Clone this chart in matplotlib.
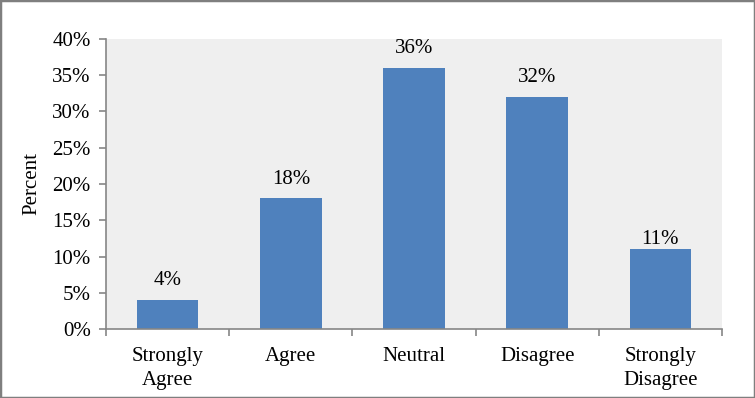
import matplotlib
matplotlib.use("Agg")
import matplotlib.pyplot as plt
from matplotlib.patches import Rectangle
from matplotlib.ticker import PercentFormatter

plt.rcParams['font.family'] = ['Liberation Serif', 'DejaVu Serif']

categories = ["Strongly\nAgree", "Agree", "Neutral", "Disagree", "Strongly\nDisagree"]
percents = [4, 18, 36, 32, 11]

fs = 15

fig = plt.figure(figsize=(7.55, 3.98), dpi=100)
ax = fig.add_axes([106 / 755, 1 - 329 / 398, 616 / 755, 290 / 398])
ax.set_facecolor("#efefef")

x = range(len(categories))
bars = ax.bar(x, percents, width=0.5, color="#4f81bd", zorder=2)
for xi, v in zip(x, percents):
    off = 0 if v == 11 else 7
    ax.annotate(f"{v}%", (xi, v), xytext=(0, off), textcoords="offset points",
                ha="center", va="bottom", fontsize=fs)

ax.set_xlim(-0.5, len(categories) - 0.5)
ax.set_ylim(0, 40)
ax.set_yticks(range(0, 41, 5))
ax.yaxis.set_major_formatter(PercentFormatter(decimals=0))
ax.set_xticks([i - 0.5 for i in range(len(categories) + 1)])
ax.set_xticklabels([])
ax.set_xticks(list(x), minor=True)
ax.set_xticklabels(categories, minor=True, fontsize=fs, linespacing=1.35)
ax.tick_params(axis="x", which="minor", length=0, pad=13)
ax.tick_params(axis="x", which="major", length=5, color="#868686", width=1.2)
ax.tick_params(axis="y", length=5, color="#868686", width=1.2, labelsize=fs, pad=6)
ax.set_ylabel("Percent", fontsize=fs, labelpad=8)

for side in ["top", "right"]:
    ax.spines[side].set_visible(False)
for side in ["left", "bottom"]:
    ax.spines[side].set_color("#868686")
    ax.spines[side].set_linewidth(1.2)

fig.patches.append(Rectangle((0, 0), 1, 1, transform=fig.transFigure, fill=False,
                             edgecolor="#7f7f7f", linewidth=2.5))

fig.savefig("out.png", dpi=100)
